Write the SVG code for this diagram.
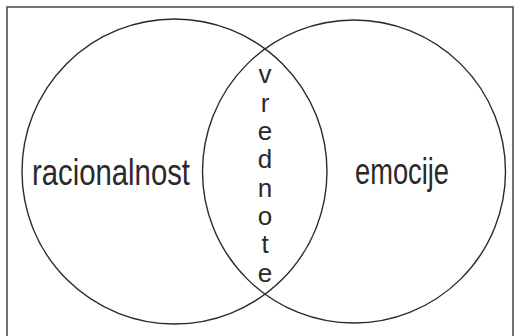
<svg xmlns="http://www.w3.org/2000/svg" width="516" height="336" viewBox="0 0 516 336">
<style>
.c{fill:none;stroke:#2a2a2a;stroke-width:1.4}
.t{font-family:"Liberation Sans",Arial,sans-serif;fill:#2a2a2a}
.big{font-size:37px}
.v{font-size:26px;text-anchor:middle}
</style>
<rect width="516" height="336" fill="#fff"/>
<rect x="7" y="7" width="506" height="345" fill="none" stroke="#444" stroke-width="1.5"/>
<g id="racionalnost">
<circle class="c" cx="174.5" cy="171.5" r="152.5"/>
<text class="t big" x="32" y="185" textLength="158" lengthAdjust="spacingAndGlyphs">racionalnost</text>
</g>
<g id="emocije">
<circle class="c" cx="354" cy="171.5" r="151.5"/>
<text class="t big" x="355" y="184" textLength="94" lengthAdjust="spacingAndGlyphs">emocije</text>
</g>
<g id="vrednote" class="t v">
<text x="265" y="83">v</text>
<text x="265" y="112">r</text>
<text x="265" y="140">e</text>
<text x="265" y="168">d</text>
<text x="265" y="197">n</text>
<text x="265" y="225">o</text>
<text x="265" y="253">t</text>
<text x="265" y="282">e</text>
</g>
<g id="connectors"></g>
</svg>
